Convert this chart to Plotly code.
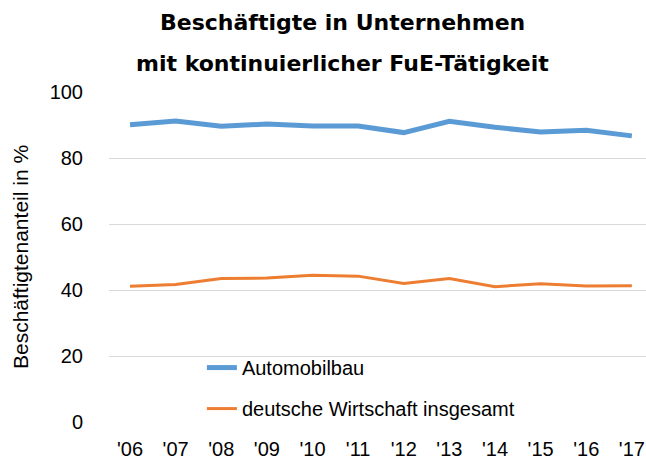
import plotly.graph_objects as go

years = ["'06", "'07", "'08", "'09", "'10", "'11", "'12", "'13", "'14", "'15", "'16", "'17"]
automobilbau = [90.1, 91.2, 89.6, 90.3, 89.7, 89.7, 87.7, 91.1, 89.3, 87.9, 88.4, 86.7]
wirtschaft = [41.1, 41.7, 43.5, 43.6, 44.5, 44.2, 42.0, 43.5, 41.0, 41.9, 41.2, 41.3]
y_ticks = [0, 20, 40, 60, 80, 100]

title_line1 = "Beschäftigte in Unternehmen"
title_line2 = "mit kontinuierlicher FuE-Tätigkeit"
y_title = "Beschäftigtenanteil in %"

tick_font = dict(family="Liberation Sans, Arial, sans-serif", size=20, color="#000000")
axis_title_font = dict(family="Liberation Sans, Arial, sans-serif", size=21, color="#000000")
title_font = dict(family="DejaVu Sans, Verdana, sans-serif", size=22, color="#000000")

fig = go.Figure()
fig.add_trace(go.Scatter(
    x=years, y=automobilbau, mode="lines", name="Automobilbau",
    line=dict(color="#5B9BD5", width=5), legendgroup="a",
))
fig.add_trace(go.Scatter(
    x=years, y=wirtschaft, mode="lines", name="deutsche Wirtschaft insgesamt",
    line=dict(color="#ED7D31", width=3), legendgroup="b",
))

fig.update_layout(
    width=646, height=459,
    margin=dict(l=109, r=0, t=92, b=37),
    paper_bgcolor="white", plot_bgcolor="white",
    showlegend=True,
    legend=dict(
        x=0.173, y=0.224, xanchor="left", yanchor="top",
        font=tick_font, bgcolor="rgba(0,0,0,0)",
        tracegroupgap=12,
    ),
    annotations=[
        dict(text="<b>" + title_line1 + "</b>", xref="paper", yref="paper",
             x=0.435, y=1.212, xanchor="center", yanchor="middle",
             showarrow=False, font=title_font),
        dict(text="<b>" + title_line2 + "</b>", xref="paper", yref="paper",
             x=0.435, y=1.087, xanchor="center", yanchor="middle",
             showarrow=False, font=title_font),
    ],
)

fig.update_xaxes(
    type="category", range=[-0.46, 11.31], automargin=False,
    showgrid=False, showline=False, zeroline=False,
    ticks="outside", ticklen=9, tickcolor="rgba(0,0,0,0)",
    tickfont=tick_font,
)
fig.update_yaxes(
    range=[0, 100], tickvals=y_ticks, automargin=False,
    showgrid=True, gridcolor="#D9D9D9", gridwidth=1,
    zeroline=False, showline=False,
    ticks="outside", ticklen=21, tickcolor="rgba(0,0,0,0)",
    tickfont=tick_font,
    title=dict(text=y_title, font=axis_title_font, standoff=15),
)

fig.write_html(
    "out.html",
    config={"displayModeBar": False},
    post_script="document.body.style.margin='0';document.body.style.overflow='hidden';",
)
